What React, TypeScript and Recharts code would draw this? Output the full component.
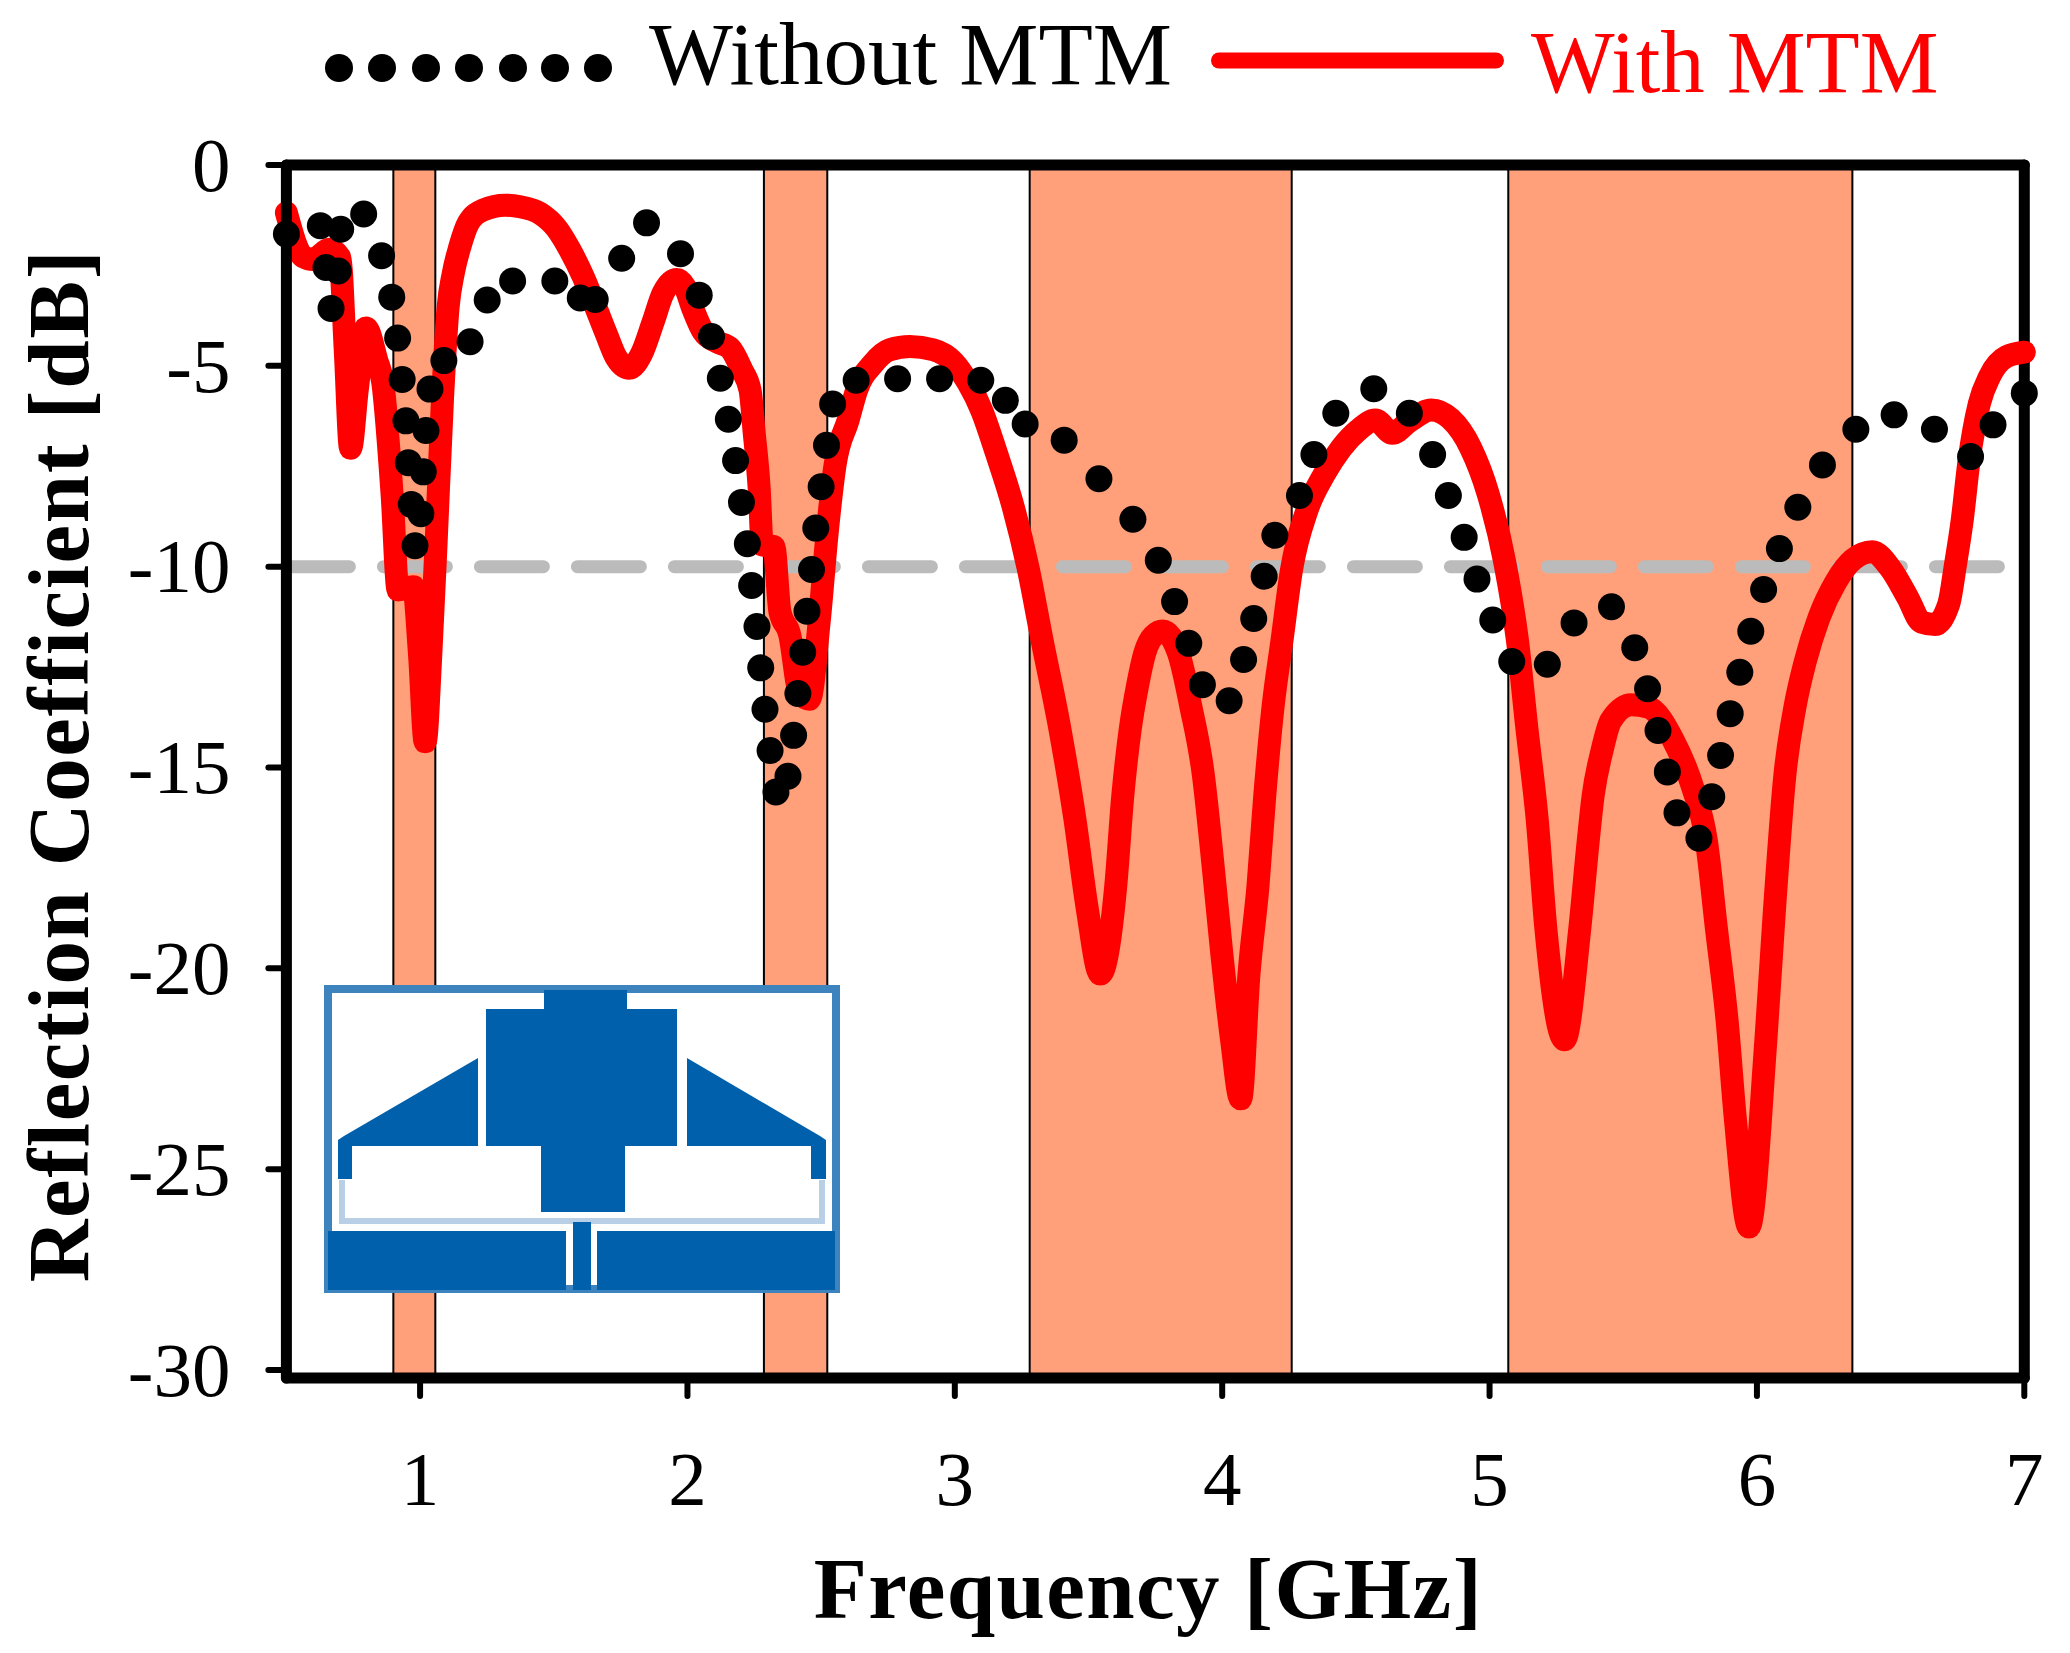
import { ComposedChart, Line, XAxis, YAxis, ReferenceArea, ReferenceLine } from 'recharts'

const FONT = '"Liberation Serif", "Times New Roman", serif'

const freqTicks = [1, 2, 3, 4, 5, 6, 7]
const dbTicks = [0, -5, -10, -15, -20, -25, -30]
const threshold = -10

// shaded operating bands [start, end] in GHz
const bands = [
  [0.9, 1.057],
  [2.286, 2.523],
  [3.28, 4.26],
  [5.07, 6.357],
]

const withoutFreq = [
  0.5, 0.627, 0.703, 0.789, 0.648, 0.694, 0.667, 0.856, 0.894, 0.916, 0.933, 0.947, 0.956, 0.967, 0.981, 1.003,
  1.012, 1.022, 1.037, 1.089, 1.187, 1.251, 1.346, 1.504, 1.599, 1.655, 1.754, 1.847, 1.974, 2.044, 2.09, 2.123,
  2.153, 2.18, 2.202, 2.224, 2.24, 2.26, 2.274, 2.29, 2.309, 2.331, 2.376, 2.397, 2.413, 2.431, 2.447, 2.464,
  2.48, 2.5, 2.52, 2.543, 2.631, 2.786, 2.943, 3.097, 3.189, 3.263, 3.409, 3.539, 3.666, 3.761, 3.822, 3.875,
  3.926, 4.026, 4.08, 4.118, 4.157, 4.197, 4.289, 4.343, 4.425, 4.567, 4.7, 4.787, 4.846, 4.905, 4.953, 5.012,
  5.083, 5.216, 5.316, 5.456, 5.543, 5.591, 5.63, 5.665, 5.701, 5.783, 5.831, 5.864, 5.9, 5.936, 5.977, 6.025,
  6.084, 6.153, 6.245, 6.37, 6.513, 6.664, 6.799, 6.883, 7,
]
const withoutDb = [
  -1.72, -1.51, -1.6, -1.22, -2.55, -2.64, -3.57, -2.26, -3.29, -4.31, -5.34, -6.37, -7.41, -8.45, -9.48, -8.68,
  -7.64, -6.61, -5.58, -4.87, -4.4, -3.36, -2.89, -2.89, -3.31, -3.35, -2.32, -1.44, -2.21, -3.24, -4.27, -5.31,
  -6.33, -7.36, -8.4, -9.43, -10.47, -11.49, -12.52, -13.55, -14.58, -15.61, -15.22, -14.2, -13.16, -12.13, -11.11, -10.07,
  -9.04, -8.01, -6.98, -5.95, -5.36, -5.32, -5.32, -5.36, -5.86, -6.45, -6.85, -7.81, -8.82, -9.84, -10.87, -11.91,
  -12.94, -13.34, -12.31, -11.29, -10.24, -9.22, -8.23, -7.21, -6.18, -5.57, -6.18, -7.21, -8.23, -9.27, -10.31, -11.33,
  -12.36, -12.43, -11.4, -11.0, -12.02, -13.04, -14.08, -15.11, -16.13, -16.76, -15.73, -14.7, -13.66, -12.63, -11.61, -10.57,
  -9.55, -8.52, -7.47, -6.58, -6.22, -6.58, -7.26, -6.47, -5.68,
]

const withFreq = [
  0.5, 0.562, 0.6, 0.66, 0.7, 0.72, 0.74, 0.765, 0.798, 0.838, 0.86, 0.895,
  0.918, 0.975, 0.998, 1.019, 1.04, 1.06, 1.084, 1.105, 1.124, 1.149, 1.18, 1.236,
  1.318, 1.374, 1.448, 1.511, 1.561, 1.61, 1.654, 1.698, 1.735, 1.782, 1.829, 1.872,
  1.909, 1.96, 1.99, 2.022, 2.059, 2.109, 2.159, 2.203, 2.234, 2.25, 2.268, 2.28,
  2.323, 2.346, 2.382, 2.419, 2.456, 2.493, 2.523, 2.552, 2.601, 2.633, 2.695, 2.757,
  2.832, 2.919, 2.994, 3.05, 3.1, 3.156, 3.218, 3.274, 3.326, 3.393, 3.449, 3.495,
  3.544, 3.602, 3.628, 3.656, 3.684, 3.71, 3.743, 3.778, 3.837, 3.883, 3.929, 3.965,
  3.998, 4.036, 4.069, 4.1, 4.134, 4.159, 4.19, 4.224, 4.26, 4.317, 4.38, 4.445,
  4.509, 4.573, 4.637, 4.7, 4.782, 4.854, 4.93, 4.994, 5.058, 5.104, 5.14, 5.178,
  5.211, 5.28, 5.337, 5.369, 5.387, 5.42, 5.454, 5.53, 5.594, 5.683, 5.76, 5.811,
  5.849, 5.888, 5.92, 5.97, 6.033, 6.066, 6.105, 6.142, 6.18, 6.232, 6.295, 6.358,
  6.431, 6.5, 6.564, 6.615, 6.666, 6.717, 6.743, 6.768, 6.793, 6.832, 6.87, 6.934, 7,
]
const withDb = [
  -1.19, -2.28, -2.35, -2.1, -2.3, -4.6, -7.05, -5.6, -4.06, -4.86, -5.4, -8.17,
  -10.58, -10.5, -12.2, -14.36, -12.2, -9.4, -5.8, -3.53, -2.7, -2.03, -1.45, -1.12,
  -1.0, -1.04, -1.2, -1.58, -2.12, -2.78, -3.49, -4.23, -4.81, -5.06, -4.69, -3.9,
  -3.19, -2.85, -3.03, -3.61, -4.15, -4.4, -4.56, -5.1, -5.6, -6.69, -8.02, -9.46,
  -9.5, -11.13, -11.68, -13.13, -13.3, -11.35, -9.13, -7.47, -6.35, -5.6, -4.94, -4.6,
  -4.52, -4.6, -4.9, -5.43, -6.1, -7.18, -8.5, -10.03, -11.82, -14.04, -16.28, -18.5,
  -20.14, -17.94, -15.72, -14.05, -12.94, -12.16, -11.72, -11.6, -12.16, -13.49, -15.16, -17.38,
  -19.6, -21.83, -23.25, -20.16, -17.94, -15.72, -13.5, -11.82, -10.05, -8.6, -7.72, -7.05,
  -6.6, -6.35, -6.68, -6.38, -6.1, -6.32, -7.05, -8.17, -9.93, -11.82, -14.05, -16.28,
  -19.04, -21.78, -19.04, -16.83, -15.72, -14.6, -13.83, -13.44, -13.5, -14.27, -15.5, -16.83,
  -19.04, -21.27, -23.8, -26.44, -21.83, -18.5, -15.16, -13.5, -12.38, -11.27, -10.38, -9.83,
  -9.63, -10.05, -10.77, -11.38, -11.44, -10.94, -9.93, -8.83, -7.38, -5.94, -5.27, -4.77, -4.66,
]

const withoutRows = withoutFreq.map((x, i) => ({ x, y: withoutDb[i] }))
const withRows = withFreq.map((x, i) => ({ x, y: withDb[i] }))

const legendDots = [339, 382, 426, 469, 513, 555, 598]

function Inset() {
  const blue = '#0060AC'
  const pale = '#B8CFE6'
  return (
    <svg width={2070} height={1653} style={{ position: 'absolute', left: 0, top: 0 }}>
      <rect x={328} y={989} width={508} height={300} fill="#fff" stroke="#3D84BE" strokeWidth={8} />
      <path
        d="M544 990H627V1009H677V1146H625V1212H541V1146H486V1009H544Z"
        fill={blue}
      />
      <path d="M478 1058V1146H352V1179H338V1140L344 1136Z" fill={blue} />
      <path d="M687 1058V1146H811V1179H826V1140L820 1136Z" fill={blue} />
      <path d="M342 1180V1221H822V1180" fill="none" stroke={pale} strokeWidth={6} />
      <rect x={328} y={1231} width={238} height={59} fill={blue} />
      <rect x={573} y={1222} width={18} height={68} fill={blue} />
      <rect x={597} y={1231} width={238} height={59} fill={blue} />
    </svg>
  )
}

function TopLegend() {
  return (
    <svg width={2070} height={120} style={{ position: 'absolute', left: 0, top: 0 }}>
      {legendDots.map((cx) => (
        <circle key={cx} cx={cx} cy={68} r={14} fill="#000" />
      ))}
      <text x={649} y={84} fontFamily={FONT} fontSize={89} fill="#000">
        Without MTM
      </text>
      <line x1={1219} y1={60.5} x2={1496} y2={60.5} stroke="#f00" strokeWidth={16} strokeLinecap="round" />
      <text x={1531} y={92} fontFamily={FONT} fontSize={88.6} fill="#f00">
        With MTM
      </text>
    </svg>
  )
}

export default function App() {
  const tick = { fontSize: 77, fontFamily: FONT, fill: '#000' }
  const axisLine = { stroke: '#000', strokeWidth: 11, strokeLinecap: 'round' as const }
  const tickLine = { stroke: '#000', strokeWidth: 6, strokeLinecap: 'round' as const }
  const title = { fontSize: 87, fontFamily: FONT, fontWeight: 'bold', fill: '#000' }

  return (
    <div style={{ position: 'absolute', left: 0, top: 0, width: 2070, height: 1653, background: '#fff' }}>
      <ComposedChart width={2070} height={1653} margin={{ top: 165, right: 45.7, bottom: 0, left: 0.4 }}>
        <XAxis
          type="number"
          dataKey="x"
          domain={[0.5, 7]}
          ticks={freqTicks}
          height={275}
          axisLine={axisLine}
          tickLine={tickLine}
          tickSize={18}
          tickMargin={54}
          tick={tick}
          interval={0}
          label={{
            value: 'Frequency [GHz]',
            position: 'insideBottom',
            offset: 35,
            dx: -7,
            style: { ...title, letterSpacing: 1.4 },
          }}
        />
        <YAxis
          type="number"
          domain={[-30.2, 0]}
          ticks={dbTicks}
          width={286}
          axisLine={axisLine}
          tickLine={tickLine}
          tickSize={18}
          tickMargin={38}
          tick={{ ...tick, dy: -1.5 }}
          interval={0}
          label={{
            value: 'Reflection Coefficient [dB]',
            angle: -90,
            position: 'insideLeft',
            offset: 57,
            dy: -6,
            style: { ...title, textAnchor: 'middle', letterSpacing: 1.6 },
          }}
        />
        {bands.map(([x1, x2]) => (
          <ReferenceArea key={x1} x1={x1} x2={x2} y1={0} y2={-30.2} fill="#FFA07A" fillOpacity={1} stroke="#000" strokeWidth={2} />
        ))}
        <ReferenceLine y={threshold} stroke="#BBBBBB" strokeWidth={13} strokeDasharray="63 34" strokeLinecap="round" />
        <ReferenceLine y={0} stroke="#000" strokeWidth={11} strokeLinecap="round" />
        <ReferenceLine x={7} stroke="#000" strokeWidth={11} strokeLinecap="round" />
        <Line
          data={withRows}
          dataKey="y"
          type="monotone"
          stroke="#f00"
          strokeWidth={23}
          strokeLinecap="round"
          strokeLinejoin="round"
          dot={false}
          activeDot={false}
          isAnimationActive={false}
        />
        <Line
          data={withoutRows}
          dataKey="y"
          stroke="none"
          dot={{ r: 13.5, fill: '#000', stroke: 'none' }}
          activeDot={false}
          isAnimationActive={false}
        />
      </ComposedChart>
      <Inset />
      <TopLegend />
    </div>
  )
}
